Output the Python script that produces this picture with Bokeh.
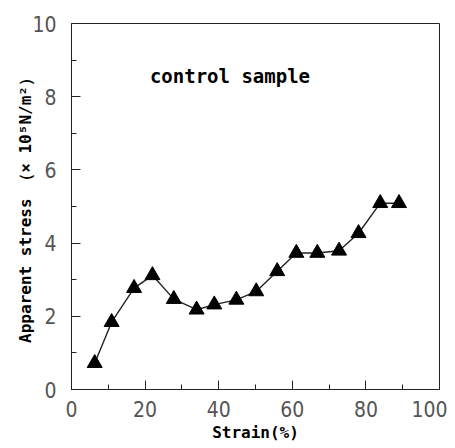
from bokeh.plotting import figure
from bokeh.models import FixedTicker, Label, Range1d
from bokeh.embed import file_html
from bokeh.resources import INLINE

strain = [6.3, 10.9, 17.0, 22.0, 27.8, 34.0, 38.8, 44.8, 50.2, 55.9, 61.1, 66.8, 72.7, 78.0, 83.9, 89.0]
stress = [0.72, 1.84, 2.77, 3.12, 2.47, 2.18, 2.32, 2.45, 2.68, 3.23, 3.73, 3.73, 3.79, 4.27, 5.09, 5.09]

x_major = [0, 20, 40, 60, 80, 100]
x_minor = [10, 30, 50, 70, 90]
y_major = [0, 2, 4, 6, 8, 10]
y_minor = [1, 3, 5, 7, 9]

title_text = "control sample"
x_label = "Strain(%)"
y_label = "Apparent stress （× 10⁵N/m²）"

p = figure(width=447, height=447, output_backend="svg", toolbar_location=None,
           x_range=Range1d(0, 100), y_range=Range1d(0, 10),
           min_border_left=71, min_border_right=8, min_border_top=23, min_border_bottom=58)
p.background_fill_color = "white"
p.border_fill_color = "white"
p.outline_line_color = "#222222"
p.outline_line_width = 1
p.xgrid.visible = False
p.ygrid.visible = False

p.line(strain, stress, line_color="#222222", line_width=1.4)
p.scatter(strain, stress, marker="triangle", size=15, fill_color="black", line_color="black")

tick_font = "Liberation Sans Narrow, DejaVu Sans Condensed, Arial Narrow, sans-serif"
for ax, maj, mnr in ((p.xaxis[0], x_major, x_minor), (p.yaxis[0], y_major, y_minor)):
    ax.ticker = FixedTicker(ticks=maj, minor_ticks=mnr)
    ax.major_tick_in = 9
    ax.major_tick_out = 0
    ax.minor_tick_in = 5
    ax.minor_tick_out = 0
    ax.axis_line_color = "#222222"
    ax.major_tick_line_color = "#222222"
    ax.minor_tick_line_color = "#222222"
    ax.major_label_text_font = tick_font
    ax.major_label_text_font_size = "21px"
    ax.major_label_text_color = "#555555"
    ax.axis_label_text_font = "DejaVu Sans Mono"
    ax.axis_label_text_font_style = "bold"
    ax.axis_label_text_color = "black"

p.xaxis.axis_label = x_label
p.xaxis.axis_label_text_font_size = "16px"
p.xaxis.major_label_standoff = 11
p.xaxis.axis_label_standoff = 3

p.yaxis.axis_label = y_label
p.yaxis.axis_label_text_font_size = "16px"
p.yaxis.major_label_standoff = 15
p.yaxis.axis_label_standoff = -6

p.add_layout(Label(x=21.3, y=8.56, text=title_text, text_font="DejaVu Sans Mono",
                   text_font_style="bold", text_font_size="19px", text_color="black",
                   text_baseline="middle", text_align="left"))

open("out.html", "w").write(file_html(p, INLINE))
